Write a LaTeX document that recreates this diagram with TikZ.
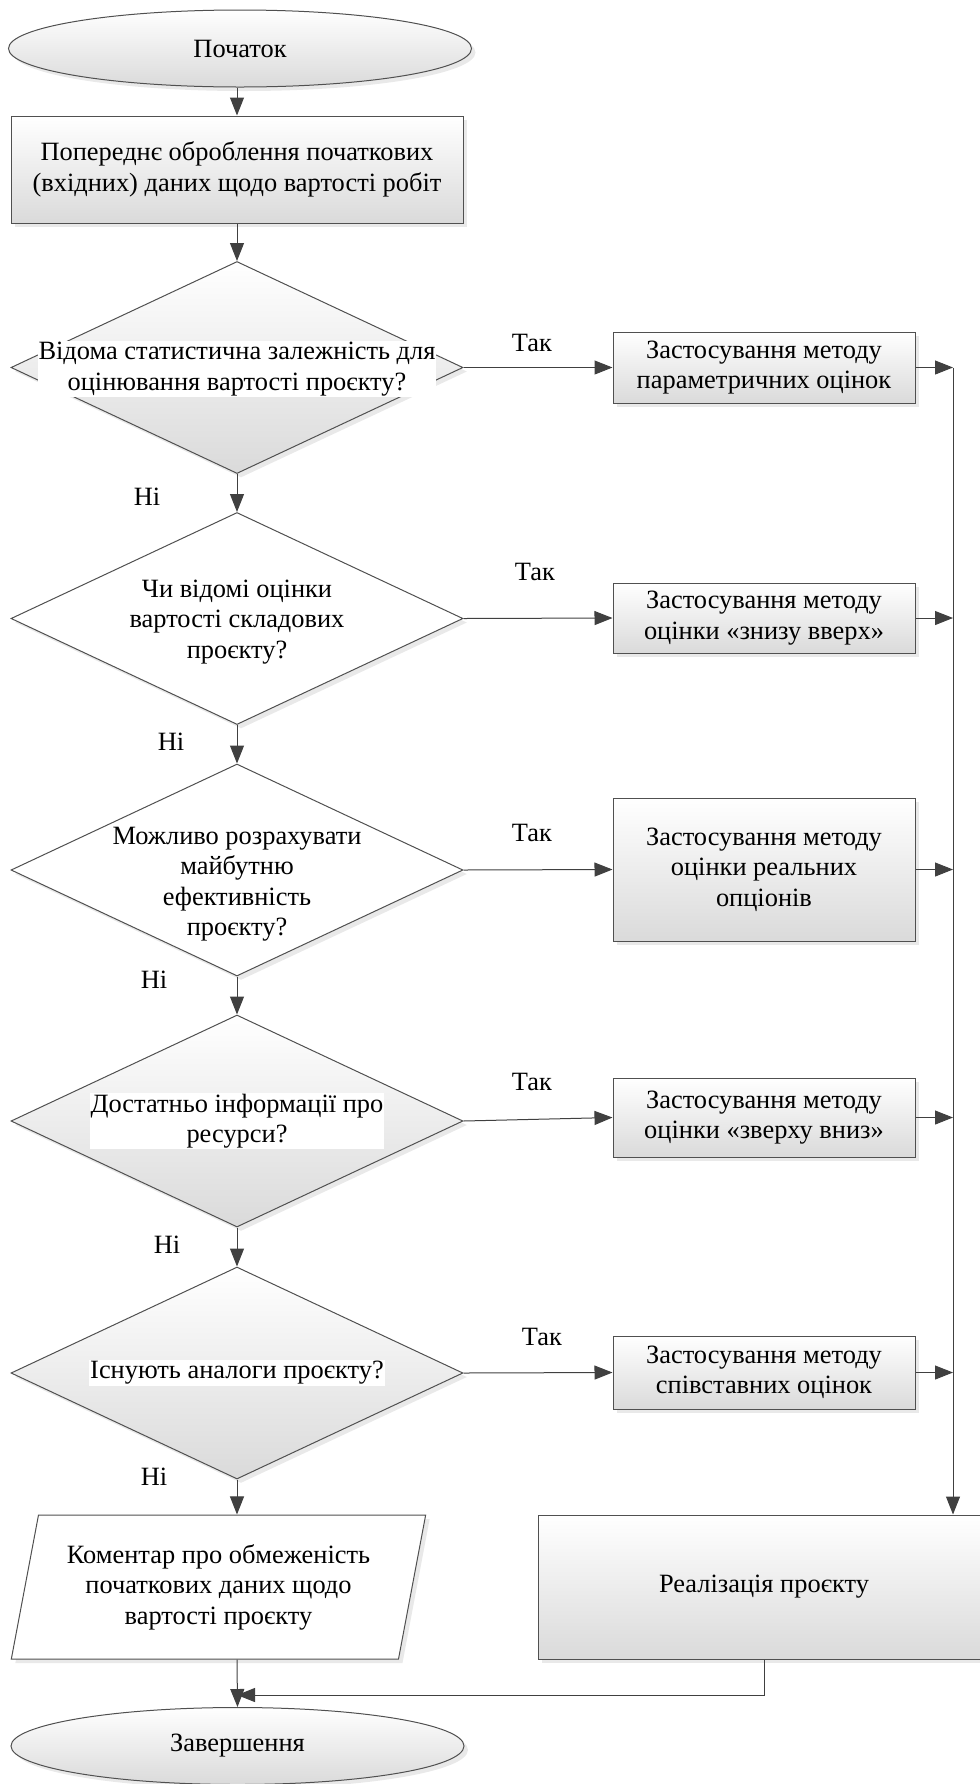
\documentclass[tikz,border=0pt]{standalone}
\usepackage{fontspec}
\setmainfont{Liberation Serif}
\usepackage{tikz}
\usetikzlibrary{shapes.geometric, arrows.meta, shadows}
\definecolor{myedgecolor}{HTML}{505050}
\definecolor{myarrowcolor}{HTML}{404040}
\definecolor{myshadecolor}{HTML}{dadada}

\begin{document}
\begin{tikzpicture}[x=0.5pt, y=0.5pt,
  every node/.style={font=\fontsize{13.2pt}{15.2pt}\selectfont},
  basebody/.style={draw=myedgecolor, line width=0.5pt, drop shadow={shadow xshift=2pt, shadow yshift=-2pt, fill=black!12, opacity=0.7}},
  greybody/.style={basebody, top color=white, bottom color=myshadecolor},
  whitebody/.style={basebody, fill=white},
  terminal/.style={greybody, ellipse, inner sep=0pt, minimum height=38.5pt},
  process/.style={greybody, rectangle, align=center, inner sep=0pt},
  method/.style={process, minimum width=151pt},
  decision/.style={diamond, inner sep=0pt, minimum width=226pt, minimum height=106pt},
  qtext/.style={align=center, inner sep=0.5pt},
  answer/.style={inner sep=0pt},
  arrow/.style={draw=myarrowcolor, line width=0.5pt, -{Triangle[length=9pt, width=7pt]}}]%
\useasboundingbox (0,0) rectangle (980,-1784);%
\clip (0,0) rectangle (980,-1784);%
% left column
\node[terminal, minimum width=231.5pt] (start) at (240, -48.5) {Початок};%
\node[process, minimum width=226pt, minimum height=53.5pt] (prep) at (237, -169.5) {Попереднє оброблення початкових\\(вхідних) даних щодо вартості робіт};%
\node[decision, greybody] (q1) at (237, -367.5) {};%
\node[qtext, fill=white] (q1text) at (237, -369) {Відома статистична залежність для\\оцінювання вартості проєкту?};%
\node[decision, whitebody] (q2) at (237, -618.5) {};%
\node[qtext] (q2text) at (237, -622) {Чи відомі оцінки\\вартості складових\\проєкту?};%
\node[decision, whitebody] (q3) at (237, -870) {};%
\node[qtext] (q3text) at (237, -884) {Можливо розрахувати\\майбутню\\ефективність\\проєкту?};%
\node[decision, greybody] (q4) at (237, -1121) {};%
\node[qtext, fill=white] (q4text) at (237, -1121) {Достатньо інформації про\\ресурси?};%
\node[decision, greybody] (q5) at (237, -1373) {};%
\node[qtext, fill=white] (q5text) at (237, -1373) {Існують аналоги проєкту?};%
\node[whitebody, trapezium, trapezium left angle=75, trapezium right angle=105, trapezium stretches=true, minimum width=207.5pt, minimum height=72pt, inner sep=0pt, align=center] (comment) at (218.5, -1587) {Коментар про обмеженість\\початкових даних щодо\\вартості проєкту};%
\node[terminal, minimum width=226.5pt] (finish) at (237.5, -1746) {Завершення};%
% right column
\node[method, minimum height=35.5pt] (m1) at (764, -367.5) {Застосування методу\\параметричних оцінок};%
\node[method, minimum height=35pt] (m2) at (764, -618) {Застосування методу\\оцінки «знизу вверх»};%
\node[method, minimum height=71.5pt] (m3) at (764, -869.5) {Застосування методу\\оцінки реальних\\опціонів};%
\node[method, minimum height=39.5pt] (m4) at (764, -1117.5) {Застосування методу\\оцінки «зверху вниз»};%
\node[method, minimum height=36.5pt] (m5) at (764, -1372.5) {Застосування методу\\співставних оцінок};%
\node[process, minimum width=226pt, minimum height=72pt] (impl) at (764, -1587) {Реалізація проєкту};%
% answers
\node[answer] (yes1) at (532, -343) {Так};%
\node[answer] (yes2) at (535, -572) {Так};%
\node[answer] (yes3) at (532, -833) {Так};%
\node[answer] (yes4) at (532, -1082) {Так};%
\node[answer] (yes5) at (542, -1337) {Так};%
\node[answer] (no1) at (147, -497) {Ні};%
\node[answer] (no2) at (171, -742) {Ні};%
\node[answer] (no3) at (154, -980) {Ні};%
\node[answer] (no4) at (167, -1245) {Ні};%
\node[answer] (no5) at (154, -1477) {Ні};%
% connectors
\coordinate (bus) at (953, -367.5);%
\coordinate (merge) at (237, -1695);%
\draw[arrow] (prep.north |- start.south) -- (prep.north);%
\draw[arrow] (prep.south) -- (q1.north);%
\foreach \a/\b in {q1/q2, q2/q3, q3/q4, q4/q5}
  \draw[arrow] (\a.south) -- (\b.north);%
\foreach \i in {1,...,5}
  \draw[arrow] (q\i.east) -- (m\i.west);%
\foreach \i in {1,...,5}
  \draw[arrow] (m\i.east) -- (m\i.east -| bus);%
\draw[arrow] (bus) -- (bus |- impl.north);%
\draw[arrow] (q5.south) -- (q5.south |- comment.north);%
\draw[arrow] (q5.south |- comment.south) -- (finish.north);%
\draw[arrow] (impl.south) |- (merge);%
\end{tikzpicture}
\end{document}
